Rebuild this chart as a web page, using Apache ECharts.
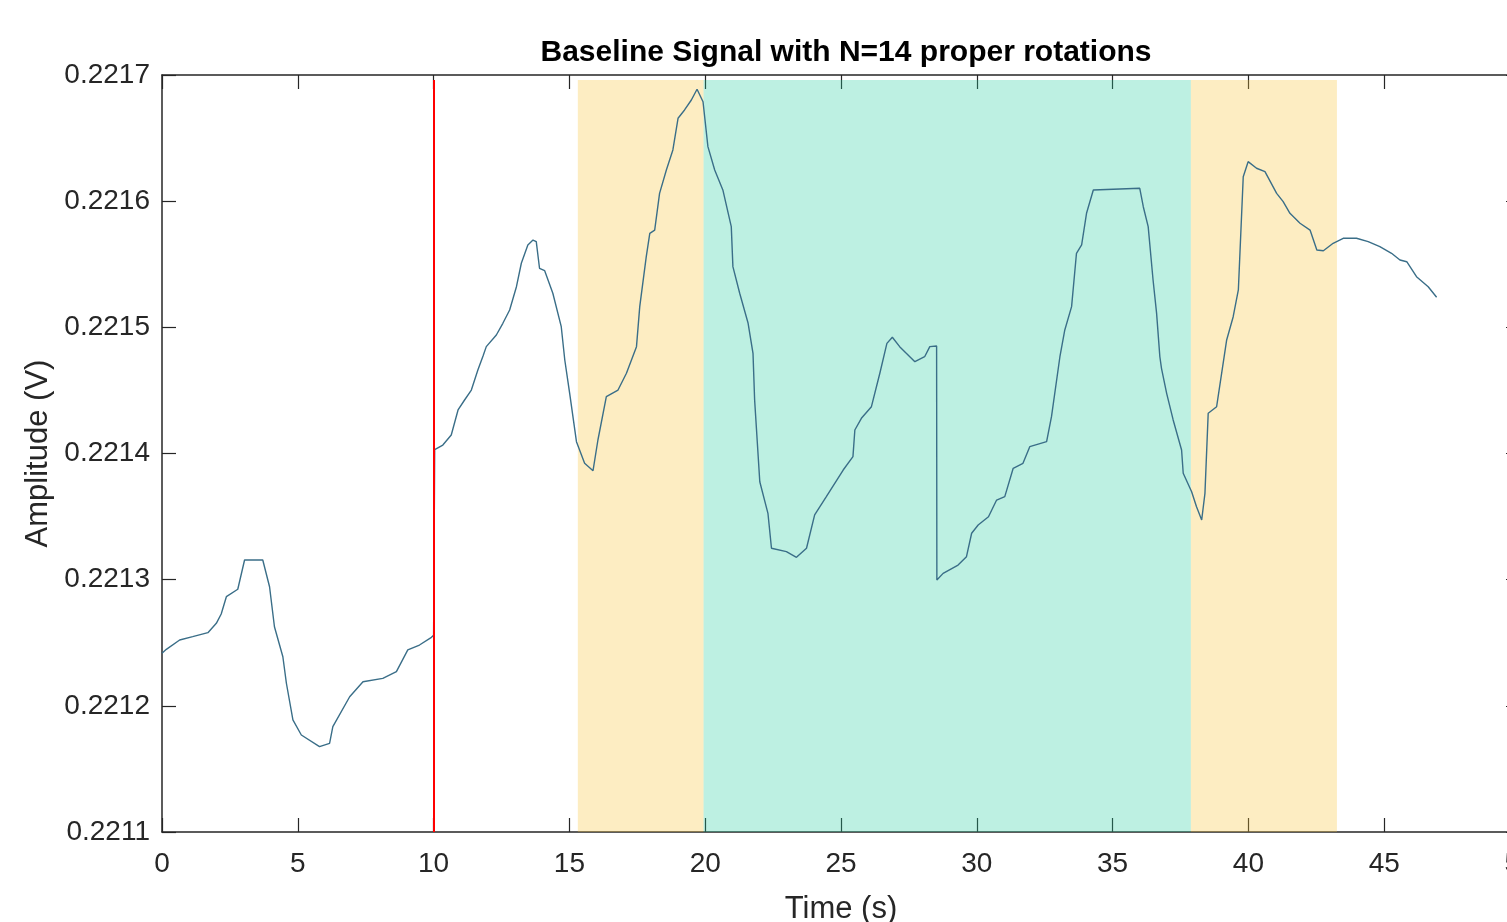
<!DOCTYPE html>
<html>
<head>
<meta charset="utf-8">
<script src="https://cdn.jsdelivr.net/npm/echarts@6/dist/echarts.min.js"></script>
<style>
  html, body { margin: 0; padding: 0; background: #ffffff; }
  #chart { width: 1507px; height: 922px; }
</style>
</head>
<body>
<div id="chart"></div>
<script>
// Baseline signal (time in s, amplitude in V)
const TIME = [
  0.00, 0.16, 0.65, 1.13, 1.69, 2.00, 2.18, 2.37, 2.79, 3.04, 3.71, 3.96, 4.14, 4.45, 4.58, 4.82,
  5.13, 5.80, 6.17, 6.29, 6.91, 7.40, 8.13, 8.63, 9.05, 9.48, 9.92, 10.00, 10.04, 10.10, 10.34, 10.65,
  10.90, 11.14, 11.39, 11.63, 11.82, 11.94, 12.31, 12.55, 12.80, 13.05, 13.23, 13.47, 13.66, 13.78, 13.90, 14.09,
  14.39, 14.70, 14.83, 15.01, 15.26, 15.56, 15.87, 16.05, 16.36, 16.79, 17.10, 17.47, 17.59, 17.83, 17.96, 18.14,
  18.32, 18.57, 18.81, 19.00, 19.24, 19.49, 19.70, 19.92, 20.10, 20.35, 20.65, 20.96, 21.02, 21.27, 21.58, 21.76,
  21.82, 22.01, 22.31, 22.44, 22.99, 23.36, 23.73, 24.03, 24.46, 25.08, 25.44, 25.51, 25.75, 26.12, 26.43, 26.69,
  26.89, 27.16, 27.72, 28.08, 28.27, 28.52, 28.53, 28.76, 29.31, 29.62, 29.81, 30.05, 30.43, 30.73, 31.03, 31.34,
  31.70, 31.95, 32.57, 32.75, 33.06, 33.24, 33.49, 33.67, 33.86, 34.04, 34.29, 36.00, 36.13, 36.31, 36.49, 36.62,
  36.74, 36.80, 36.99, 37.23, 37.54, 37.60, 37.91, 38.09, 38.28, 38.40, 38.52, 38.83, 39.20, 39.44, 39.63, 39.81,
  39.99, 40.30, 40.61, 41.04, 41.28, 41.53, 41.90, 42.27, 42.52, 42.76, 43.12, 43.49, 43.98, 44.41, 44.84, 45.27,
  45.58, 45.83, 46.19, 46.62, 46.93
];
const AMPLITUDE = [
  0.2212416, 0.2212448, 0.2212522, 0.2212548, 0.2212580, 0.2212654, 0.2212728, 0.2212865, 0.2212924, 0.2213156, 0.2213156, 0.2212944, 0.2212627, 0.2212389, 0.2212179, 0.2211888,
  0.2211769, 0.2211676, 0.2211703, 0.2211835, 0.2212072, 0.2212191, 0.2212218, 0.2212271, 0.2212443, 0.2212482, 0.2212543, 0.2212560, 0.2214030, 0.2214041, 0.2214067, 0.2214147,
  0.2214345, 0.2214424, 0.2214503, 0.2214662, 0.2214773, 0.2214847, 0.2214939, 0.2215032, 0.2215137, 0.2215322, 0.2215508, 0.2215653, 0.2215692, 0.2215679, 0.2215468, 0.2215449,
  0.2215270, 0.2215005, 0.2214741, 0.2214477, 0.2214094, 0.2213922, 0.2213864, 0.2214107, 0.2214450, 0.2214503, 0.2214636, 0.2214847, 0.2215164, 0.2215560, 0.2215745, 0.2215771,
  0.2216062, 0.2216247, 0.2216406, 0.2216657, 0.2216723, 0.2216802, 0.2216887, 0.2216788, 0.2216432, 0.2216247, 0.2216089, 0.2215798, 0.2215481, 0.2215270, 0.2215032, 0.2214794,
  0.2214424, 0.2213776, 0.2213526, 0.2213249, 0.2213222, 0.2213177, 0.2213249, 0.2213513, 0.2213658, 0.2213869, 0.2213975, 0.2214186, 0.2214279, 0.2214371, 0.2214636, 0.2214873,
  0.2214921, 0.2214847, 0.2214728, 0.2214767, 0.2214847, 0.2214852, 0.2212997, 0.2213050, 0.2213116, 0.2213182, 0.2213368, 0.2213433, 0.2213499, 0.2213631, 0.2213658, 0.2213883,
  0.2213922, 0.2214054, 0.2214094, 0.2214292, 0.2214767, 0.2214979, 0.2215164, 0.2215587, 0.2215653, 0.2215904, 0.2216089, 0.2216102, 0.2215956, 0.2215798, 0.2215375, 0.2215111,
  0.2214767, 0.2214675, 0.2214477, 0.2214266, 0.2214028, 0.2213843, 0.2213697, 0.2213578, 0.2213473, 0.2213684, 0.2214319, 0.2214371, 0.2214900, 0.2215084, 0.2215296, 0.2216194,
  0.2216313, 0.2216261, 0.2216234, 0.2216062, 0.2215996, 0.2215904, 0.2215825, 0.2215771, 0.2215613, 0.2215607, 0.2215666, 0.2215706, 0.2215706, 0.2215679, 0.2215639, 0.2215587,
  0.2215534, 0.2215520, 0.2215401, 0.2215322, 0.2215238
];

// shaded intervals (s): outer = yellow, middle = teal
const YELLOW_SPANS = [[15.31, 19.94], [37.88, 43.26]];
const TEAL_SPANS = [[19.94, 37.88]];
const SPAN_TOP = 0.221696;
const MARKER_TIME = 10;

const X_MIN = 0, X_MAX = 50, X_STEP = 5;
const Y_MIN = 0.2211, Y_MAX = 0.2217, Y_STEP = 0.0001;

const FONT = "'Liberation Sans', Arial, sans-serif";
const INK = "#262626";

const seriesData = TIME.map((t, i) => [t, AMPLITUDE[i]]);

const spanAreas = (spans, color) => spans.map(([a, b]) => [
  { xAxis: a, yAxis: Y_MIN, itemStyle: { color } },
  { xAxis: b, yAxis: SPAN_TOP }
]);

// box-style axes: every side drawn, ticks pointing inward
const baseAxisLine = { show: true, onZero: false, lineStyle: { color: INK, width: 1.5 } };
const baseTick = { show: true, inside: true, length: 14, lineStyle: { color: INK, width: 1.2 } };

const ch = echarts.init(document.getElementById("chart"));
ch.setOption({
  animation: false,
  backgroundColor: "#ffffff",
  textStyle: { fontFamily: FONT },
  title: {
    text: "Baseline Signal with N=14 proper rotations",
    left: 841,
    textAlign: "center",
    top: 33,
    textStyle: { fontFamily: FONT, fontSize: 30, fontWeight: "bold", color: "#000000" }
  },
  // the right edge of the box sits just past the window, as in the original
  grid: { left: 162, top: 75, right: -13, bottom: 90, containLabel: false, outerBoundsMode: "none" },
  xAxis: [
    {
      type: "value", min: X_MIN, max: X_MAX, interval: X_STEP,
      name: "Time (s)", nameLocation: "middle", nameGap: 62,
      nameTextStyle: { fontFamily: FONT, fontSize: 31, color: INK },
      axisLine: baseAxisLine, axisTick: baseTick,
      axisLabel: { color: INK, fontSize: 28, margin: 18, fontFamily: FONT },
      splitLine: { show: false }
    },
    {
      type: "value", min: X_MIN, max: X_MAX, interval: X_STEP, position: "top",
      axisLine: baseAxisLine, axisTick: baseTick,
      axisLabel: { show: false }, splitLine: { show: false }
    }
  ],
  yAxis: [
    {
      type: "value", min: Y_MIN, max: Y_MAX, interval: Y_STEP,
      name: "Amplitude (V)", nameLocation: "middle", nameGap: 108,
      nameTextStyle: { fontFamily: FONT, fontSize: 31, color: INK },
      axisLine: baseAxisLine, axisTick: baseTick,
      axisLabel: { color: INK, fontSize: 28, margin: 12, fontFamily: FONT, formatter: v => v.toFixed(4) },
      splitLine: { show: false }
    },
    {
      type: "value", min: Y_MIN, max: Y_MAX, interval: Y_STEP, position: "right",
      axisLine: baseAxisLine, axisTick: baseTick,
      axisLabel: { show: false }, splitLine: { show: false }
    }
  ],
  series: [
    {
      name: "signal",
      type: "line",
      data: seriesData,
      showSymbol: false,
      symbol: "none",
      z: 2,
      lineStyle: { color: "#3a6e88", width: 1.4 },
      markLine: {
        silent: true,
        symbol: "none",
        label: { show: false },
        lineStyle: { color: "#ff0000", width: 2, type: "solid" },
        data: [[{ coord: [MARKER_TIME, Y_MIN] }, { coord: [MARKER_TIME, SPAN_TOP] }]]
      }
    },
    {
      name: "spans",
      type: "line",
      data: [],
      z: 5,
      markArea: {
        silent: true,
        data: [
          ...spanAreas(YELLOW_SPANS, "rgba(248,195,52,0.30)"),
          ...spanAreas(TEAL_SPANS, "rgba(38,205,158,0.30)")
        ]
      }
    }
  ]
});
</script>
</body>
</html>
